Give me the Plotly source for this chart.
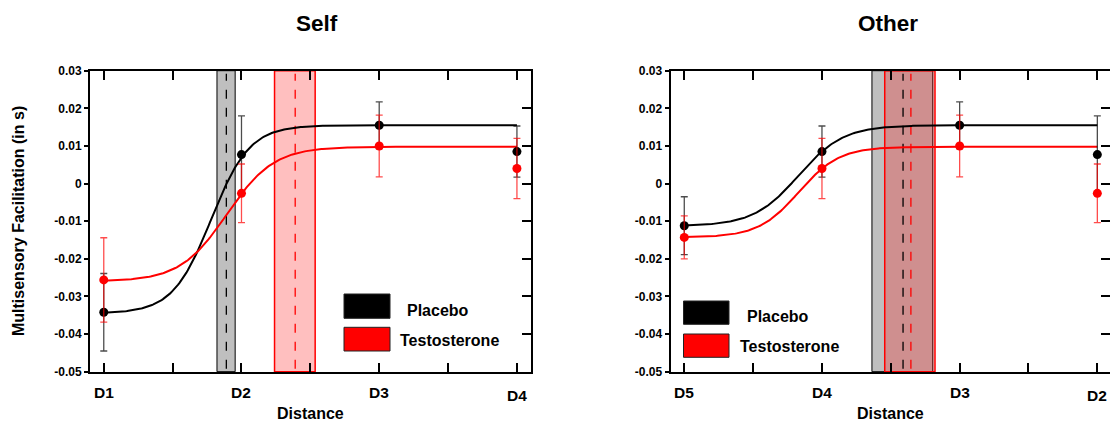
import numpy as np
import plotly.graph_objects as go

# ---------------- data ----------------
positions = [1, 2, 3, 4]
self_labels = ["D1", "D2", "D3", "D4"]
other_labels = ["D5", "D4", "D3", "D2"]

self_placebo = [-0.0342, 0.0077, 0.0155, 0.0085]
self_placebo_err = [0.0103, 0.0103, 0.0062, 0.0068]
self_testo = [-0.0256, -0.0026, 0.0100, 0.0040]
self_testo_err = [0.0112, 0.0078, 0.0082, 0.0080]

other_placebo = [-0.0112, 0.0085, 0.0155, 0.0077]
other_placebo_err = [0.0077, 0.0068, 0.0062, 0.0103]
other_testo = [-0.0143, 0.0040, 0.0100, -0.0026]
other_testo_err = [0.0057, 0.0080, 0.0082, 0.0078]

# sigmoid fit parameters: [lower, upper, midpoint, slope scale]
self_placebo_fit = [-0.0345, 0.0155, 1.78, 0.14]
self_testo_fit = [-0.0260, 0.0098, 1.895, 0.17]
other_placebo_fit = [-0.0113, 0.0155, 1.829, 0.163]
other_testo_fit = [-0.0143, 0.0098, 1.832, 0.147]

# boundary estimate: [band low, dashed estimate, band high]
self_placebo_band = [1.822, 1.890, 1.954]
self_testo_band = [2.240, 2.390, 2.535]
other_placebo_band = [2.363, 2.589, 2.805]
other_testo_band = [2.456, 2.646, 2.821]

y_ticks = [0.03, 0.02, 0.01, 0.0, -0.01, -0.02, -0.03, -0.04, -0.05]
y_tick_labels = ["0.03", "0.02", "0.01", "0", "-0.01", "-0.02", "-0.03", "-0.04", "-0.05"]
x_minor = [1.5, 2.5, 3.5]

panel_titles = ["Self", "Other"]
series_names = ["Placebo", "Testosterone"]
y_title = "Multisensory Facilitation (in s)"
x_title = "Distance"

# ---------------- styling ----------------
W, H = 1110, 423
FONT = "Liberation Sans"
BLACK = "#000000"
RED = "#ff0000"


def px_x(p):
    return p / W


def px_y(p):
    return (H - p) / H


def sigmoid(xs, fit):
    lo, hi, mid, s = fit
    return lo + (hi - lo) / (1.0 + np.exp(-(xs - mid) / s))


fig = go.Figure()

panels = [
    dict(xa="x", ya="y", yr="y3", labels=self_labels,
         pl=self_placebo, ple=self_placebo_err, te=self_testo, tee=self_testo_err,
         plf=self_placebo_fit, tef=self_testo_fit,
         plb=self_placebo_band, teb=self_testo_band,
         xrange=[0.9, 4.1]),
    dict(xa="x2", ya="y2", yr="y4", labels=other_labels,
         pl=other_placebo, ple=other_placebo_err, te=other_testo, tee=other_testo_err,
         plf=other_placebo_fit, tef=other_testo_fit,
         plb=other_placebo_band, teb=other_testo_band,
         xrange=[0.9, 4.092]),
]

xs = np.linspace(positions[0], positions[-1], 301)
shapes = []
annotations = []

for p in panels:
    # curves
    fig.add_trace(go.Scatter(x=xs, y=sigmoid(xs, p["plf"]), mode="lines",
                             line=dict(color=BLACK, width=2), xaxis=p["xa"], yaxis=p["ya"],
                             showlegend=False, hoverinfo="skip"))
    fig.add_trace(go.Scatter(x=xs, y=sigmoid(xs, p["tef"]), mode="lines",
                             line=dict(color=RED, width=2), xaxis=p["xa"], yaxis=p["ya"],
                             showlegend=False, hoverinfo="skip"))
    # points with error bars
    fig.add_trace(go.Scatter(x=positions, y=p["pl"], mode="markers",
                             marker=dict(color=BLACK, size=9),
                             error_y=dict(type="data", array=p["ple"], color="rgba(0,0,0,0.7)",
                                          thickness=1.3, width=3.5),
                             xaxis=p["xa"], yaxis=p["ya"], showlegend=False))
    fig.add_trace(go.Scatter(x=positions, y=p["te"], mode="markers",
                             marker=dict(color=RED, size=9),
                             error_y=dict(type="data", array=p["tee"], color="rgba(255,0,0,0.7)",
                                          thickness=1.3, width=3.5),
                             xaxis=p["xa"], yaxis=p["ya"], showlegend=False))
    # dummy trace so the right-side tick axis renders
    fig.add_trace(go.Scatter(x=[None], y=[None], xaxis=p["xa"], yaxis=p["yr"],
                             showlegend=False, hoverinfo="skip"))

    yref_dom = p["ya"] + " domain"
    # bands
    shapes.append(dict(type="rect", xref=p["xa"], yref=yref_dom, x0=p["plb"][0], x1=p["plb"][2],
                       y0=0, y1=1, fillcolor="rgba(0,0,0,0.25)",
                       line=dict(color=BLACK, width=1), layer="below"))
    shapes.append(dict(type="rect", xref=p["xa"], yref=yref_dom, x0=p["teb"][0], x1=p["teb"][2],
                       y0=0, y1=1, fillcolor="rgba(255,0,0,0.25)",
                       line=dict(color=RED, width=1.5), layer="below"))
    shapes.append(dict(type="line", xref=p["xa"], yref=yref_dom, x0=p["plb"][1], x1=p["plb"][1],
                       y0=0.01, y1=0.99, line=dict(color=BLACK, width=1.3, dash="dash"),
                       layer="below"))
    shapes.append(dict(type="line", xref=p["xa"], yref=yref_dom, x0=p["teb"][1], x1=p["teb"][1],
                       y0=0.01, y1=0.99, line=dict(color=RED, width=1.3, dash="dash"),
                       layer="below"))

    # category labels under the x axis (the last one sits a little lower)
    for i, (pos, lab) in enumerate(zip(positions, p["labels"])):
        annotations.append(dict(x=pos, y=px_y(392), xref=p["xa"], yref="paper", text=lab,
                                showarrow=False, xanchor="center", yanchor="middle",
                                yshift=-3.3 if i == len(positions) - 1 else 0,
                                font=dict(family=FONT, size=15.5, color=BLACK, weight="bold")))

tickvals_x = sorted(positions + x_minor)


def x_axis(domain, rng, anchor):
    return dict(domain=domain, range=rng, anchor=anchor, tickvals=tickvals_x,
                showticklabels=False, automargin=False,
                ticks="inside", ticklen=9, tickwidth=2, tickcolor=BLACK,
                showline=True, linewidth=2, linecolor=BLACK, mirror="ticks",
                showgrid=False, zeroline=False)


def y_axis(domain, anchor):
    return dict(domain=domain, range=[-0.05, 0.03], anchor=anchor, tickvals=y_ticks,
                ticktext=y_tick_labels, ticks="outside", ticklen=4, tickwidth=2, tickcolor=BLACK,
                showline=True, linewidth=2, linecolor=BLACK, showgrid=False, zeroline=False,
                automargin=False,
                tickfont=dict(family=FONT, size=12, color=BLACK, weight="bold"))


def y_right(overlay, anchor, showline):
    return dict(overlaying=overlay, side="right", anchor=anchor, range=[-0.05, 0.03],
                tickvals=y_ticks, ticks="inside", ticklen=9, tickwidth=2, tickcolor=BLACK,
                showticklabels=False, showline=showline, linewidth=2, linecolor=BLACK,
                showgrid=False, zeroline=False, automargin=False)


ydom = [px_y(371.7), px_y(70.7)]
fig.update_layout(
    template="none",
    width=W, height=H, autosize=False,
    margin=dict(l=0, r=0, t=0, b=0, pad=0, autoexpand=False),
    paper_bgcolor="white", plot_bgcolor="white",
    showlegend=False,
    xaxis=x_axis([px_x(90), px_x(530.7)], panels[0]["xrange"], "y"),
    yaxis=y_axis(ydom, "x"),
    yaxis3=y_right("y", "x", True),
    xaxis2=x_axis([px_x(670.5), 1.0], panels[1]["xrange"], "y2"),
    yaxis2=y_axis(ydom, "x2"),
    yaxis4=y_right("y2", "x2", True),
    shapes=shapes,
)

# legend boxes (drawn as shapes in paper space)
legend_boxes = [
    (344, 294, 390, 318.3, BLACK), (344, 327.3, 390, 351, RED),
    (683.5, 301, 729, 324.3, BLACK), (683.5, 334, 729, 357.3, RED),
]
for x0, y0, x1, y1, c in legend_boxes:
    fig.add_shape(type="rect", xref="paper", yref="paper", x0=px_x(x0), x1=px_x(x1),
                  y0=px_y(y1), y1=px_y(y0), fillcolor=c, line=dict(color="#222222", width=1))

legend_texts = [
    (405, 310, series_names[0]), (398.3, 340, series_names[1]),
    (744.5, 316.3, series_names[0]), (737.8, 346, series_names[1]),
]
for x, y, t in legend_texts:
    annotations.append(dict(x=px_x(x), y=px_y(y), xref="paper", yref="paper", text=t,
                            showarrow=False, xanchor="left", yanchor="middle",
                            font=dict(family=FONT, size=16, color=BLACK, weight="bold")))

for x, t in [(316.7, panel_titles[0]), (887.5, panel_titles[1])]:
    annotations.append(dict(x=px_x(x), y=px_y(24), xref="paper", yref="paper", text=t,
                            showarrow=False, xanchor="center", yanchor="middle",
                            font=dict(family=FONT, size=22.5, color=BLACK, weight="bold")))

for x in [310.5, 890]:
    annotations.append(dict(x=px_x(x), y=px_y(413), xref="paper", yref="paper", text=x_title,
                            showarrow=False, xanchor="center", yanchor="middle",
                            font=dict(family=FONT, size=16, color=BLACK, weight="bold")))

annotations.append(dict(x=px_x(18), y=px_y(221), xref="paper", yref="paper", text=y_title,
                        showarrow=False, textangle=-90, xanchor="center", yanchor="middle",
                        font=dict(family=FONT, size=16, color=BLACK, weight="bold")))

fig.update_layout(annotations=annotations)

fig.write_html(
    "out.html",
    config={"displayModeBar": False},
    post_script=(
        "document.body.style.margin='0';"
        "document.body.style.overflow='hidden';"
    ),
)
